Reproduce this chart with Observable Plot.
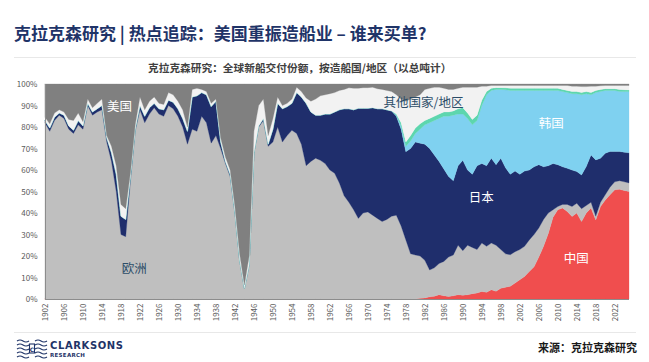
<!DOCTYPE html>
<html><head><meta charset="utf-8">
<script src="https://cdn.jsdelivr.net/npm/d3@7"></script>
<script src="https://cdn.jsdelivr.net/npm/@observablehq/plot@0.6"></script>
<style>
body{margin:0;background:#fff;width:649px;height:362px;overflow:hidden;position:relative;font-family:"Noto Sans CJK SC","Noto Sans",sans-serif;}
#title{position:absolute;left:14px;top:23px;font-size:17px;font-weight:700;color:#1f3468;white-space:nowrap;line-height:1.2;}
.hr{position:absolute;left:14px;width:622px;height:1px;background:#e8e8e8;}
#subtitle{position:absolute;left:148px;top:62px;font-size:10.7px;font-weight:700;color:#404040;white-space:nowrap;line-height:1.2;}
#chart{position:absolute;left:0;top:76px;}
#source{position:absolute;right:12px;top:341px;font-size:11px;font-weight:700;color:#1a1a1a;white-space:nowrap;line-height:1.2;}
#logo{position:absolute;left:16px;top:338px;}
</style></head>
<body>
<div id="title">克拉克森研究 | 热点追踪：美国重振造船业 – 谁来买单?</div>
<div class="hr" style="top:57px"></div>
<div id="subtitle">克拉克森研究：全球新船交付份额，按造船国/地区（以总吨计）</div>
<div id="chart"></div>
<div class="hr" style="top:332px"></div>
<svg id="logo" width="110" height="22" viewBox="0 0 110 22">
  <g fill="none" stroke="#1f3468" stroke-width="1.1">
    <path d="M1 3 q3 -2 6 0 t6 0"/><path d="M1 7 q3 -2 6 0 t6 0"/><path d="M1 11 q3 -2 6 0 t6 0"/><path d="M1 15 q3 -2 6 0 t6 0"/><path d="M1 19 q3 -2 6 0 t6 0"/>
    <path d="M19 3 q3 -2 6 0 t6 0"/><path d="M19 7 q3 -2 6 0 t6 0"/><path d="M19 11 q3 -2 6 0 t6 0"/><path d="M19 15 q3 -2 6 0 t6 0"/><path d="M19 19 q3 -2 6 0 t6 0"/>
    <rect x="13.5" y="6" width="5" height="9"/>
  </g>
  <text x="16" y="13.5" font-size="6" font-weight="700" fill="#1f3468" text-anchor="middle" font-family="DejaVu Sans">C</text>
  <text x="34" y="11" font-size="10" font-weight="700" fill="#1f3468" font-family="DejaVu Sans" letter-spacing="0.6">CLARKSONS</text>
  <text x="34" y="19" font-size="5.5" font-weight="700" fill="#1f3468" font-family="DejaVu Sans" letter-spacing="0.3">RESEARCH</text>
</svg>
<div id="source">来源：克拉克森研究</div>
<script>
const years = [1902,1903,1904,1905,1906,1907,1908,1909,1910,1911,1912,1913,1914,1915,1916,1917,1918,1919,1920,1921,1922,1923,1924,1925,1926,1927,1928,1929,1930,1931,1932,1933,1934,1935,1936,1937,1938,1939,1940,1941,1942,1943,1944,1945,1946,1947,1948,1949,1950,1951,1952,1953,1954,1955,1956,1957,1958,1959,1960,1961,1962,1963,1964,1965,1966,1967,1968,1969,1970,1971,1972,1973,1974,1975,1976,1977,1978,1979,1980,1981,1982,1983,1984,1985,1986,1987,1988,1989,1990,1991,1992,1993,1994,1995,1996,1997,1998,1999,2000,2001,2002,2003,2004,2005,2006,2007,2008,2009,2010,2011,2012,2013,2014,2015,2016,2017,2018,2019,2020,2021,2022,2023,2024,2025];

const china = [0,0,0,0,0,0,0,0,0,0, 0,0,0,0,0,0,0,0,0,0, 0,0,0,0,0,0,0,0,0,0, 0,0,0,0,0,0,0,0,0,0, 0,0,0,0,0,0,0,0,0,0, 0,0,0,0,0,0,0,0,0,0, 0,0,0,0,0,0,0,0,0,0, 0,0,0,0,0,0,0,0,0,
  0.3,0.5,1,1.3,2,1.5,1.2,1.5,2,1.8,
  2,2.5,2.8,3.5,3.1,4.3,3.6,5,5.5,5.9,
  7.4,9,10.5,12.8,15,19.5,24.5,30.5,38,41.5,
  42.3,40.7,38.4,40,36,40,42.3,36.8,43,46,
  48.5,50.8,51,50.5,50];

const europe = [82,78,83,85.5,84,79,77,81,79,90,
  85.5,87,88,73,64,50,30,29,55,78,
  88,82,86,89,86,85,90,88.5,85,80,
  72,79,78,85,82,72.5,76,70,63,57,
  40,18,5,16,68,80,83,71,73,80,
  73,76,78.5,77,72,62,64,65.5,64.5,63,
  60,58.5,54,48,45,41.5,37.5,40,40.5,39,
  37.5,36,37,38.5,39,34,27.5,21,20.5,19.7,
  17.5,12.5,13.2,14.5,16,18.3,19,23,20.7,23,
  21.5,20.2,22.5,21.4,21.7,21.4,18,15.5,14.7,14.6,
  14,14,14.7,15,13.5,12.5,9.5,3.5,1.5,1.7,
  3.3,4.6,4.5,6,3.5,2.7,1.7,2,2.5,3.5,
  3.7,4,4,4];

const japan = [1,1.5,1.5,1,1.5,1.5,1.5,2,1.5,1,
  1.5,1.5,2,2,4,8,8.5,8,2,1,
  2,3,3,2,2.5,3,2.5,3,3.5,4,
  6,15,16.5,11,13,17,16,3,1,1,
  0.5,0,0,0,0,0.5,1,1,6,11,
  15.5,13.5,12.5,19,22,29,23,20,21,23,
  26,28.5,34,40.5,43.5,46.5,51.2,48.7,48.2,50,
  51,52.5,51,49,46,45,41,49,52.5,52.5,
  54,56.5,52.5,47.5,43,37.5,34.5,37,42,35,
  34,39,37,37.5,39.5,37.5,42.5,40,37.4,37.5,
  35,35,32.5,31.5,29.5,24.5,22,21.5,19.5,17.5,
  16.8,17,14.8,15.7,18.1,22,26.2,20.5,19.3,16.6,
  14.1,13.6,13.8,14];

const korea = [0,0,0,0,0,0,0,0,0,0, 0,0,0,0,0,0,0,0,0,0, 0,0,0,0,0,0,0,0,0,0, 0,0,0,0,0,0,0,0,0,0, 0,0,0,0,0,0,0,0,0,0, 0,0,0,0,0,0,0,0,0,0, 0,0,0,0,0,0,0,0,0,0, 0,0,0,0,
  0.5,1.5,2.5,3.5,4,6.5,9,12,16,20,
  24.5,28,30.5,24,21.5,24,23,21,27,33,
  31.5,35,32,36.3,39,37.5,39,37.5,37,35.5,
  34.5,35.5,35,34,34.5,35,35.2,35.5,36.2,37.3,
  33.9,28,31.3,31,29.2,28.4,28.4,27.9,28.2,28.5];

const teal = [0,0,0,0,0,0,0,0,0,0, 0,0,0,0,0,0,0,0,0,0, 0,0,0,0,0,0,0,0,0,0, 0,0,0,0,0,0,0,0,0,0, 0,0,0,0,0,0,0,0,0,0, 0,0,0,0,0,0,0,0,0,0, 0,0,0,0,0,0,0,0,0,0, 0,0,0,0,
  0.5,1.5,2,2.5,2.5,2.5,2,2,2,2,
  2,2,2,2.5,3,2.5,2.5,2.5,2.5,1.5,
  1,0.8,0.8,0.9,1,1,1,1,1,1,
  1,1,1,1,1,1,1,1,1,1,
  1,1,1,1,0.8,0.8,0.8,1,0.8,0.7];

const others = [1.5,2,2,1.5,1.5,3,4.5,3.5,2,2,
  2,2.5,3,1,3,4,5.5,5,2,2,
  4,3,3,3,2.5,2.5,3.5,3.5,3.5,4,
  2,3.5,3.5,1.5,1.5,1.5,1,2,2,2,
  2.5,3,1.5,4,10,9.5,9,4,5,3,
  1.5,1.5,2,2.5,2.5,2.5,5,7.5,9,9,
  9.5,9,9,9,9.7,10,9.3,9.6,9.6,9.5,
  9.3,9,9,9,9,11,19,17,14.5,13.5,
  14.5,14,13.5,12.5,11,10.5,10,9.5,9.5,12,
  15,13,6.5,2.5,1.3,1,1,1.1,1.3,1.3,
  1.3,1.3,1.3,1.3,1.3,1.3,1.3,1.3,1.3,1.8,
  2.3,2.5,2.5,2.8,2.3,3,2,1.7,1.5,1.5,
  1.5,1.8,2,2.1];

const usa = [15.5,18.5,13.5,12,13,16.5,17,13.5,17.5,7,
  11,9,7,24,29,38,56,58,41,19,
  6,12,8,6,9,9.5,4,5,8,12,
  20,2.5,2,2.5,3.5,9,7,25,34,40,
  57,79,93.5,80,22,10,7,24,16,6,
  10,9,7,1.5,3.5,6.5,8,7,5.5,5,
  4.5,4,3,2.5,1.8,2,2,1.7,1.7,1.5,
  2.2,2.5,3,3.5,5,7,8,7,6,5,
  2.5,2,1.5,1.5,2,2.5,2.5,2,1.5,1.5,
  1.5,1.5,1,1,0.7,0.7,0.7,0.7,0.7,0.7,
  0.7,0.7,0.7,0.7,0.7,0.7,0.7,0.7,0.7,0.7,
  0.7,1,1,1.2,1.2,1,1,0.8,0.7,0.7,
  0.7,0.7,0.7,0.7];

const seriesKeys = ["中国","欧洲","日本","韩国","其他亚洲","其他国家/地区","美国"];
const seriesColors = ["#f04e4e","#bfbfbf","#1f2e6c","#7fd1f0","#5dd6ae","#f2f2f2","#808080"];
const seriesValues = [china, europe, japan, korea, teal, others, usa];

const xTicks = [1902,1906,1910,1914,1918,1922,1926,1930,1934,1938,1942,1946,1950,1954,1958,1962,1966,1970,1974,1978,1982,1986,1990,1994,1998,2002,2006,2010,2014,2018,2022];
const yTicks = [0,10,20,30,40,50,60,70,80,90,100];

const whiteLabels = [
  {name:"美国", year:1917.6, pct:89.6},
  {name:"韩国", year:2008.5, pct:81.4},
  {name:"日本", year:1993.8, pct:47},
  {name:"中国", year:2013.8, pct:19}
];
const darkLabels = [
  {name:"欧洲", year:1920.7, pct:14.4},
  {name:"其他国家/地区", year:1981.6, pct:91.2}
];

const table = [];
years.forEach((yr, i) => {
  seriesKeys.forEach((k, j) => table.push({year: yr, key: k, value: seriesValues[j][i]}));
});

const chart = Plot.plot({
  width: 649,
  height: 252,
  marginTop: 8,
  marginBottom: 29,
  marginLeft: 45,
  marginRight: 20,
  style: {fontFamily: '"Noto Sans CJK SC","Noto Sans",sans-serif', fontSize: "8px", background: "transparent", overflow: "visible"},
  x: {domain: [1902, 2025], axis: null, label: null},
  y: {domain: [0, 100], axis: null, label: null},
  color: {domain: seriesKeys, range: seriesColors},
  marks: [
    Plot.areaY(table, {x: "year", y: "value", fill: "key", stroke: "key", strokeWidth: 0.3, order: seriesKeys}),
    Plot.ruleX([1902], {stroke: "#8c8c8c", strokeWidth: 1}),
    Plot.ruleY([0], {stroke: "#8c8c8c", strokeWidth: 1}),
    Plot.axisY({ticks: yTicks, tickFormat: d => d + "%", tickSize: 0, tickPadding: 8, fill: "#595959", fontSize: 8, label: null}),
    Plot.axisX({ticks: xTicks, tickFormat: d => String(d), tickRotate: -90, tickSize: 0, tickPadding: 4, fill: "#595959", fontSize: 8, label: null}),
    Plot.text(whiteLabels, {x: "year", y: "pct", text: "name", fill: "white", fontSize: 12.5}),
    Plot.text(darkLabels, {x: "year", y: "pct", text: "name", fill: "#2c4d68", fontSize: 12.5})
  ]
});
document.getElementById("chart").appendChild(chart);
</script>
</body></html>
